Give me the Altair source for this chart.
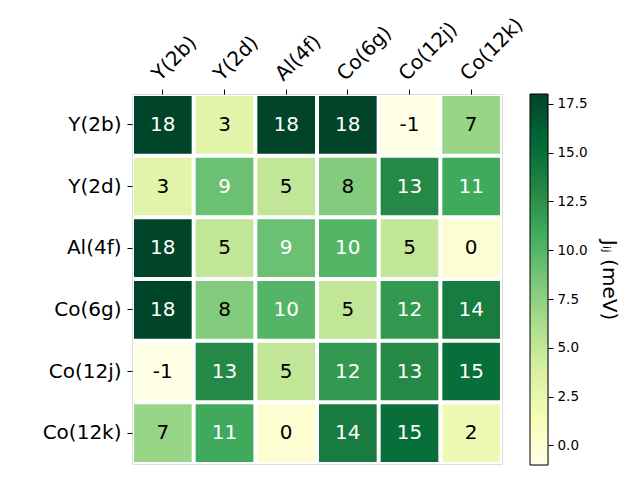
import altair as alt
import pandas as pd

# ---- data ----
sites = ["Y(2b)", "Y(2d)", "Al(4f)", "Co(6g)", "Co(12j)", "Co(12k)"]
row_y2b = [18, 3, 18, 18, -1, 7]
row_y2d = [3, 9, 5, 8, 13, 11]
row_al4f = [18, 5, 9, 10, 5, 0]
row_co6g = [18, 8, 10, 5, 12, 14]
row_co12j = [-1, 13, 5, 12, 13, 15]
row_co12k = [7, 11, 0, 14, 15, 2]
matrix = [row_y2b, row_y2d, row_al4f, row_co6g, row_co12j, row_co12k]

cbar_min = [-1]
cbar_max = [18]
cbar_ticks = [0.0, 2.5, 5.0, 7.5, 10.0, 12.5, 15.0, 17.5]

# matplotlib YlGn anchor colours
ylgn = ["#ffffe5", "#f7fcb9", "#d9f0a3", "#addd8e", "#78c679",
        "#41ab5d", "#238443", "#006837", "#004529"]

records = []
for r, row in zip(sites, matrix):
    for c, v in zip(sites, row):
        records.append({"row": r, "col": c, "v": v, "label": str(v)})
df = pd.DataFrame(records)

vmin, vmax = cbar_min[0], cbar_max[0]
n = len(ylgn)
color_domain = [vmin + (vmax - vmin) * i / (n - 1) for i in range(n)]
color_scale = alt.Scale(domain=color_domain, range=ylgn, interpolate="rgb")

FONT = "DejaVu Sans"
FS = 20

x_enc = alt.X(
    "col:O", sort=sites,
    scale=alt.Scale(paddingInner=0.065, paddingOuter=0.0325),
    axis=alt.Axis(orient="top", title=None, labelAngle=-45, labelAlign="left",
                  labelBaseline="bottom", labelFontSize=FS, labelFont=FONT,
                  labelColor="black", tickSize=5, tickColor="black",
                  labelPadding=5, domain=False, labelOverlap=False,
                  labelFlush=False, labelBound=False),
)
y_enc = alt.Y(
    "row:O", sort=sites,
    scale=alt.Scale(paddingInner=0.065, paddingOuter=0.0325),
    axis=alt.Axis(orient="left", title=None, labelFontSize=FS, labelFont=FONT,
                  labelColor="black", tickSize=5, tickColor="black",
                  labelPadding=6, domain=False),
)

base = alt.Chart(df)
cells = base.mark_rect().encode(
    x=x_enc, y=y_enc,
    color=alt.Color("v:Q", scale=color_scale, legend=None),
)
labels = base.mark_text(fontSize=FS, font=FONT, baseline="middle", align="center").encode(
    x=alt.X("col:O", sort=sites), y=alt.Y("row:O", sort=sites),
    text=alt.Text("label:N"),
    color=alt.condition("datum.v >= 9", alt.value("white"), alt.value("black")),
)
heat = alt.layer(cells, labels).properties(width=370, height=370)

cb_df = pd.DataFrame({"lo": cbar_min, "hi": cbar_max})
stops = [alt.GradientStop(color=c, offset=i / (n - 1)) for i, c in enumerate(ylgn)]
cbar = alt.Chart(cb_df).mark_rect(
    fill=alt.LinearGradient(gradient="linear", stops=stops, x1=0, x2=0, y1=1, y2=0),
    stroke="black", strokeWidth=1,
).encode(
    x=alt.value(0), x2=alt.value(18),
    y=alt.Y("lo:Q", scale=alt.Scale(domain=[vmin, vmax], nice=False, zero=False),
            axis=alt.Axis(orient="right", values=cbar_ticks, format=".1f",
                          title="Jᵢⱼ (meV)", titleAngle=90, titleFontSize=20,
                          titleFont=FONT, titleFontWeight="normal",
                          titleColor="black", titlePadding=11,
                          labelFontSize=13.5, labelFont=FONT, labelColor="black",
                          tickSize=5, tickColor="black", labelPadding=4,
                          domain=False, grid=False)),
    y2="hi:Q",
).properties(width=18, height=371)

chart = alt.hconcat(heat, cbar, spacing=28, bounds="flush").properties(
    padding={"left": 33, "top": 5, "right": 5, "bottom": 5}
).configure_view(stroke=None).configure(font=FONT)

chart.save("out.html", embed_options={"renderer": "svg", "actions": False})
